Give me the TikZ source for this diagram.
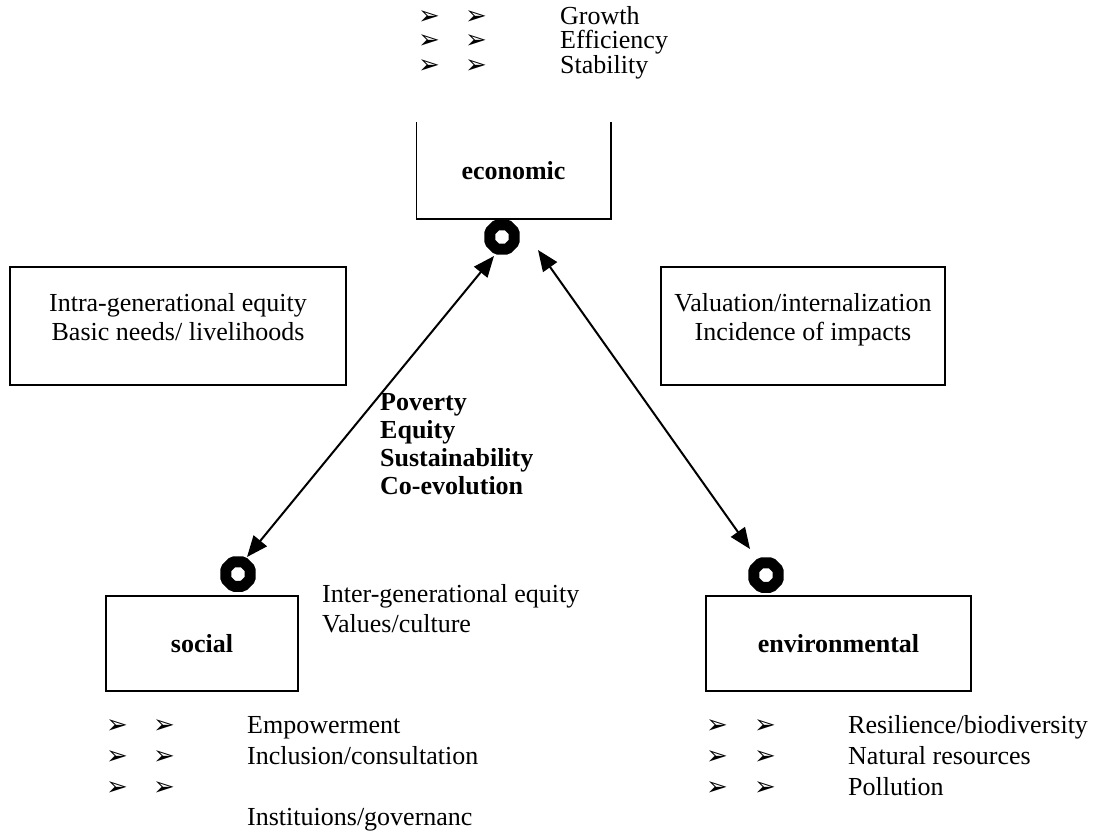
\documentclass[tikz,border=0pt]{standalone}
\usepackage{fontspec}
\setmainfont{Liberation Serif}
\newfontfamily\dingfont{DejaVu Sans}
\usetikzlibrary{arrows.meta, positioning, shapes.geometric}
\newcommand{\bodysize}{\fontsize{26}{29}\selectfont}
\newcommand{\listarrow}{{\dingfont\fontsize{26}{26}\selectfont ➢}}
\tikzset{
  pillar/.style  = {draw, line width=1.5pt, minimum height=95pt,
                    font=\bodysize\bfseries},
  notebox/.style = {draw, line width=1.5pt, align=center, font=\bodysize,
                    inner sep=0pt},
  ring/.style    = {regular polygon, regular polygon sides=8, draw=black,
                    line width=11pt, minimum size=26.5pt, inner sep=0pt,
                    fill=white, rounded corners=1.5pt},
  link/.style    = {{Triangle[length=21pt, width=17pt]}-{Triangle[length=21pt, width=17pt]},
                    line width=2pt},
  entry/.style   = {anchor=base west, inner sep=0pt, font=\bodysize},
  theme/.style   = {anchor=base west, inner sep=0pt, font=\bodysize\bfseries},
  bulletmark/.style = {anchor=base west, inner sep=0pt},
}

\begin{document}
\begin{tikzpicture}[x=1pt, y=-1pt]
  \useasboundingbox (0,0) rectangle (1101,831);

  % --- economic pillar (open at the top) ---
  \node[pillar, draw=none, minimum width=193pt] (econ) at (513.5,170.5) {economic};
  \draw[line width=1.5pt] (econ.north west) -- (econ.south west)
    -- (econ.south east) -- (econ.north east);
  \node[ring] (ringE) at (502,237) {};

  \foreach \y/\txt [count=\i] in {24/Growth, 48.5/Efficiency, 73/Stability} {
    \node[bulletmark] (eA\i) at (418,\y) {\listarrow};
    \node[bulletmark] (eB\i) at (465,\y) {\listarrow};
    \node[entry] (eT\i) at (560,\y) {\txt};
  }

  % --- side notes ---
  \node[notebox, minimum width=336pt, minimum height=118pt,
        text depth=18pt] (intra) at (178,326)
    {Intra-generational equity\\Basic needs/ livelihoods};
  \node[notebox, minimum width=284pt, minimum height=118pt,
        text depth=18pt] (valu) at (803,326)
    {Valuation/internalization\\Incidence of impacts};

  % --- linkages in the middle ---
  \node[theme] (pov) at (380,410) {Poverty};
  \node[theme] (equ) at (380,438) {Equity};
  \node[theme] (sus) at (380,466) {Sustainability};
  \node[theme] (coev) at (380,494) {Co-evolution};

  % --- social pillar ---
  \node[pillar, minimum width=192pt] (soc) at (202,643.5) {social};
  \node[ring] (ringS) at (238,574) {};
  \node[entry] (inter) at (322,602) {Inter-generational equity};
  \node[entry] (valc) at (322,632) {Values/culture};

  \foreach \y [count=\i] in {733,764,795} {
    \node[bulletmark] (sA\i) at (106,\y) {\listarrow};
    \node[bulletmark] (sB\i) at (153,\y) {\listarrow};
  }
  \node[entry] (sT1) at (247,733) {Empowerment};
  \node[entry] (sT2) at (247,764) {Inclusion/consultation};
  \node[entry] (sT4) at (247,825) {Instituions/governanc};

  % --- environmental pillar ---
  \node[pillar, minimum width=265pt] (env) at (838.5,643.5) {environmental};
  \node[ring] (ringV) at (766,575) {};

  \foreach \y/\txt [count=\i] in {733/{Resilience/biodiversity},
                                  764/{Natural resources}, 795/{Pollution}} {
    \node[bulletmark] (vA\i) at (706,\y) {\listarrow};
    \node[bulletmark] (vB\i) at (754,\y) {\listarrow};
    \node[entry] (vT\i) at (848,\y) {\txt};
  }

  % --- arrows between pillars ---
  \coordinate (eL) at (494,256);
  \coordinate (sTop) at (247,557);
  \coordinate (eR) at (538,250);
  \coordinate (vTop) at (750,549);
  \draw[link] (eL) -- (sTop);
  \draw[link] (eR) -- (vTop);
\end{tikzpicture}
\end{document}
